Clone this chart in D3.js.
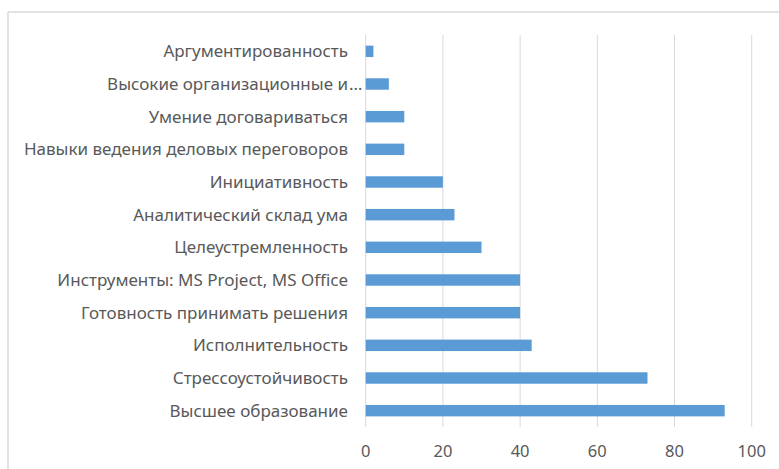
<!DOCTYPE html>
<html>
<head>
<meta charset="utf-8">
<script src="https://cdn.jsdelivr.net/npm/d3@7"></script>
<style>
  html, body { margin: 0; padding: 0; background: #ffffff; }
  svg { display: block; }
</style>
</head>
<body>
<svg id="chart" width="779" height="469"></svg>
<script>
const categories = [
  "Аргументированность",
  "Высокие организационные и",
  "Умение договариваться",
  "Навыки ведения деловых переговоров",
  "Инициативность",
  "Аналитический склад ума",
  "Целеустремленность",
  "Инструменты: MS Project, MS Office",
  "Готовность принимать решения",
  "Исполнительность",
  "Стрессоустойчивость",
  "Высшее образование"
];
const values = [2, 6, 10, 10, 20, 23, 30, 40, 40, 43, 73, 93];
const truncated = [false, true, false, false, false, false, false, false, false, false, false, false];
const xTicks = [0, 20, 40, 60, 80, 100];

const svg = d3.select("#chart");
const textColor = "#595959";
const gridColor = "#d9d9d9";
const barColor = "#5b9bd5";
const font = "'Noto Sans', 'Open Sans', sans-serif";
const labelSize = 17;

// chart frame (top and left edges visible)
svg.append("line").attr("x1", 8).attr("x2", 779).attr("y1", 12).attr("y2", 12)
  .attr("stroke", gridColor).attr("stroke-width", 1.5);
svg.append("line").attr("x1", 8).attr("x2", 8).attr("y1", 12).attr("y2", 469)
  .attr("stroke", gridColor).attr("stroke-width", 1.5);

const x = d3.scaleLinear().domain([0, 100]).range([365.7, 751.7]);
const y = d3.scaleBand().domain(categories).range([35, 427]).paddingInner(0.65).paddingOuter(0.325);

// gridlines
svg.append("g").selectAll("line").data(xTicks).join("line")
  .attr("x1", d => x(d)).attr("x2", d => x(d))
  .attr("y1", 35).attr("y2", 427)
  .attr("stroke", gridColor).attr("stroke-width", 1);

// bars
svg.append("g").selectAll("rect").data(categories).join("rect")
  .attr("x", x(0))
  .attr("y", d => y(d))
  .attr("width", (d, i) => x(values[i]) - x(0))
  .attr("height", y.bandwidth())
  .attr("fill", barColor);

// category labels
const labelX = 348;
svg.append("g").selectAll("text").data(categories).join("text")
  .attr("x", labelX)
  .attr("y", d => y(d) + y.bandwidth() / 2)
  .attr("dy", "0.35em")
  .attr("text-anchor", "end")
  .attr("font-family", font)
  .attr("font-size", labelSize)
  .attr("fill", textColor)
  .text(d => d);

svg.append("g").selectAll("text").data(categories.filter((d, i) => truncated[i])).join("text")
  .attr("x", labelX + 1)
  .attr("y", d => y(d) + y.bandwidth() / 2)
  .attr("dy", "0.35em")
  .attr("text-anchor", "start")
  .attr("font-family", font)
  .attr("font-size", labelSize)
  .attr("fill", textColor)
  .text("…");

// x axis tick labels
svg.append("g").selectAll("text").data(xTicks).join("text")
  .attr("x", d => x(d))
  .attr("y", 457)
  .attr("text-anchor", "middle")
  .attr("font-family", font)
  .attr("font-size", 16.5)
  .attr("fill", textColor)
  .text(d => d);
</script>
</body>
</html>
